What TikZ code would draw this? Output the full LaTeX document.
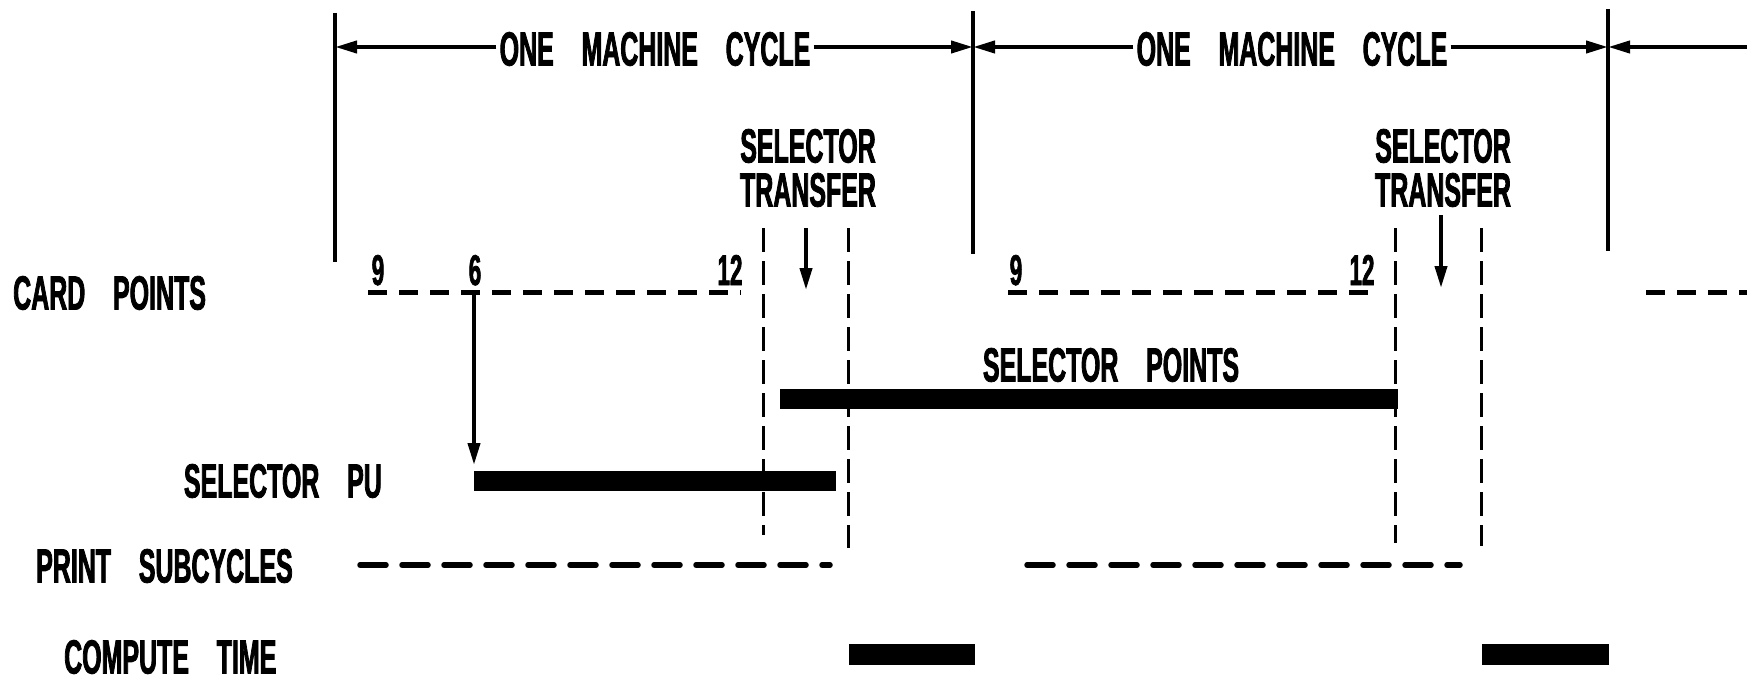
\documentclass[tikz,border=0pt]{standalone}
\usepackage{fontspec}
\usetikzlibrary{arrows.meta}
\newfontfamily\gothic{Liberation Sans}[UprightFont={* Bold}, FakeStretch=0.52, FakeBold=1.6, WordSpace=4.0]
\tikzset{
  lbl/.style={font=\gothic\fontsize{48}{40}\selectfont, inner sep=0pt, align=center},
  num/.style={font=\gothic\fontsize{43}{40}\selectfont, inner sep=0pt, anchor=base},
  cycleline/.style={line width=4pt},
  arr/.style={line width=4pt, -{Triangle[length=22pt,width=12pt]}},
  cardd/.style={line width=5pt, dash pattern=on 19pt off 12pt},
  printd/.style={line width=5.5pt, line cap=round, dash pattern=on 26pt off 16pt},
  vdash/.style={line width=3pt, dash pattern=on 24pt off 9pt},
  barfill/.style={fill=black},
}
\begin{document}
\begin{tikzpicture}[x=1pt,y=-1pt]
\useasboundingbox (0,0) rectangle (1747,682);
% cycle boundary lines
\coordinate (c1t) at (335,13);  \coordinate (c1b) at (335,262);
\coordinate (c2t) at (973,11);  \coordinate (c2b) at (973,254);
\coordinate (c3t) at (1608,9);  \coordinate (c3b) at (1608,251);
\draw[cycleline] (c1t) -- (c1b);
\draw[cycleline] (c2t) -- (c2b);
\draw[cycleline] (c3t) -- (c3b);
% one machine cycle
\node[lbl, inner sep=3pt] (omc1) at (655,49) {ONE MACHINE CYCLE};
\node[lbl, inner sep=3pt] (omc2) at (1292,49) {ONE MACHINE CYCLE};
\coordinate (redge) at (1747,47);
\draw[arr] (omc1.west |- 0,47) -- (c1t |- 0,47);
\draw[arr] (omc1.east |- 0,47) -- (c2t |- 0,47);
\draw[arr] (omc2.west |- 0,47) -- (c2t |- 0,47);
\draw[arr] (omc2.east |- 0,47) -- (c3t |- 0,47);
\draw[arr] (redge) -- (redge -| c3t);
% selector transfer
\node[lbl] (st1) at (808,168) {SELECTOR\\[4pt]TRANSFER};
\node[lbl] (st2) at (1443,168) {SELECTOR\\[4pt]TRANSFER};
\coordinate (st1a) at (806,228); \coordinate (st1b) at (806,290);
\coordinate (st2a) at (1441,215); \coordinate (st2b) at (1441,288);
\draw[arr] (st1a) -- (st1b);
\draw[arr] (st2a) -- (st2b);
% dashed verticals
\draw[vdash] (763,228) -- (763,535);
\draw[vdash] (848,228) -- (848,548);
\draw[vdash] (1395,228) -- (1395,543);
\draw[vdash] (1481,228) -- (1481,546);
% card points
\node[lbl, anchor=west] (cp) at (13,293) {CARD POINTS};
\draw[cardd] (368,292) -- (741,292);
\draw[cardd] (1008,292) -- (1376,292);
\draw[cardd] (1646,292) -- (1760,292);
\node[num] (n9a) at (378,285) {9};
\node[num] (n6) at (475,285) {6};
\node[num] (n12a) at (730,285) {12};
\node[num] (n9b) at (1016,285) {9};
\node[num] (n12b) at (1362,285) {12};
% selector points
\node[lbl] (spl) at (1111,365) {SELECTOR POINTS};
\fill[barfill] (780,389) rectangle (1398,409);
% selector PU
\node[lbl, anchor=east] (pul) at (382,481) {SELECTOR PU};
\fill[barfill] (474,471) rectangle (836,491);
\coordinate (sixa) at (474,295); \coordinate (sixb) at (474,465);
\draw[arr] (sixa) -- (sixb);
% print subcycles
\node[lbl, anchor=west] (psl) at (36,566) {PRINT SUBCYCLES};
\draw[printd] (360,565) -- (830,565);
\draw[printd] (1027,565) -- (1460,565);
% compute time
\node[lbl, anchor=west] (ctl) at (64,657) {COMPUTE TIME};
\fill[barfill] (849,644) rectangle (975,665);
\fill[barfill] (1482,644) rectangle (1609,665);
\end{tikzpicture}
\end{document}
